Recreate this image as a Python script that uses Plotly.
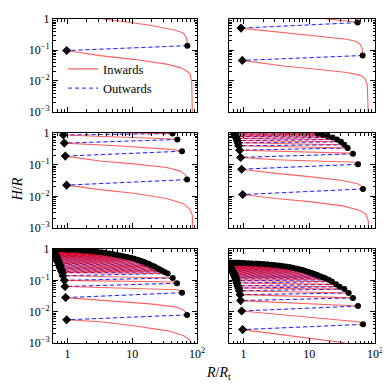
import plotly.graph_objects as go

# ---------------- data ----------------
# Panel 1 (top-left)
P1_START_R, P1_START_H = 3.2, 1.05
P1_C_R = [71.0]
P1_C_H = [0.138]
P1_D_R = [0.975]
P1_D_H = [0.096]
P1_CURVE_R = [[3.2, 18.8, 45, 54.7, 62, 68, 70.5, 71.0],
              [0.975, 3.2, 10.4, 34, 54.7, 69, 78, 82.8, 84.6, 85]]
P1_CURVE_H = [[1.05, 0.63, 0.44, 0.39, 0.34, 0.26, 0.19, 0.138],
              [0.096, 0.066, 0.05, 0.035, 0.027, 0.0214, 0.017, 0.0091, 0.0012, 0.0005]]

# Panel 2 (top-right)
P2_START_R, P2_START_H = 17.0, 1.03
P2_C_R = [54.4, 64.9]
P2_C_H = [0.766, 0.0664]
P2_D_R = [0.913, 0.957]
P2_D_H = [0.508, 0.0462]
P2_CURVE_R = [[17, 30, 45, 52, 54.4],
              [0.913, 4.03, 13, 37, 52.5, 60.4, 64.1, 64.9],
              [0.957, 4.03, 13, 37, 59.2, 70.5, 76.4, 79.1, 79.5]]
P2_CURVE_H = [[1.03, 0.92, 0.84, 0.8, 0.766],
              [0.508, 0.361, 0.284, 0.223, 0.188, 0.148, 0.103, 0.0664],
              [0.0462, 0.0306, 0.024, 0.0189, 0.0155, 0.0122, 0.00716, 0.00107, 0.0005]]

# Panel 3 (middle-left)
P3_START_R, P3_START_H = 0.84, 1.1
P3_C_R = [42.0, 49.8, 58.7, 70.2]
P3_C_H = [0.96, 0.624, 0.266, 0.0338]
P3_D_R = [0.866, 0.897, 0.929, 0.974]
P3_D_H = [0.87, 0.481, 0.187, 0.0226]
P3_CURVE_R = [[0.866, 5.77, 45, 49.8],
              [0.897, 5.77, 43, 55, 58.7],
              [0.929, 3.19, 10.4, 34, 54.7, 65.3, 70.2],
              [0.974, 3.19, 10.4, 34, 61.5, 78, 84.7, 85.7, 86]]
P3_CURVE_H = [[0.87, 0.772, 0.65, 0.624],
              [0.481, 0.398, 0.3, 0.28, 0.266],
              [0.187, 0.131, 0.106, 0.0813, 0.0627, 0.0494, 0.0338],
              [0.0226, 0.0163, 0.0125, 0.00857, 0.00586, 0.00392, 0.0025, 0.001, 0.0005]]

# Panel 4 (middle-right)
P4_START_R, P4_START_H = 0.69, 1.0
P4_C_R = [13.4, 16, 19, 22.6, 26.4, 30.3, 34.1, 38.4, 46.2, 55.1, 65.7]
P4_C_H = [0.955, 0.89, 0.81, 0.72, 0.624, 0.528, 0.427, 0.337, 0.22, 0.103, 0.0171]
P4_D_R = [0.72, 0.74, 0.76, 0.784, 0.803, 0.822, 0.841, 0.871, 0.902, 0.935, 0.968]
P4_D_H = [0.93, 0.855, 0.77, 0.67, 0.58, 0.492, 0.398, 0.286, 0.17, 0.072, 0.0114]
P4_CURVE_R = [[0.871, 5.58, 40, 46.2],
              [0.902, 3.12, 12, 45.7, 55.1],
              [0.935, 3.12, 10, 32.2, 54.6, 62, 65.7],
              [0.968, 3.12, 10, 32.2, 57.8, 72.9, 79, 80, 80.3]]
P4_CURVE_H = [[0.286, 0.26, 0.232, 0.22],
              [0.17, 0.143, 0.131, 0.122, 0.103],
              [0.072, 0.053, 0.0419, 0.0316, 0.0249, 0.0206, 0.0171],
              [0.0114, 0.0085, 0.0068, 0.005, 0.00365, 0.0027, 0.0017, 0.001, 0.0005]]

# Panel 5 (bottom-left)
P5_START_R, P5_START_H = 0.58, 1.0
P5_C_R = [0.62, 0.68, 0.75, 0.84, 0.95, 1.08, 1.25, 1.45, 1.65, 1.9, 2.2, 2.55, 2.9, 3.35,
          3.8, 4.4, 5.0, 5.7, 6.5, 7.4, 8.4, 9.6, 10.8, 12.1, 13.5, 15.0, 16.5, 18.2, 20,
          22, 24, 26.2, 28.5, 31.5, 35.2, 42.2, 49.1, 58.7, 70.2]
P5_C_H = [0.995, 0.99, 0.985, 0.976, 0.965, 0.953, 0.94, 0.923, 0.905, 0.883, 0.86, 0.835,
          0.81, 0.783, 0.755, 0.722, 0.69, 0.658, 0.625, 0.592, 0.56, 0.525, 0.49, 0.457,
          0.425, 0.392, 0.36, 0.33, 0.3, 0.275, 0.25, 0.228, 0.205, 0.186, 0.166, 0.119,
          0.0807, 0.0403, 0.00789]
P5_D_R = [0.585, 0.585, 0.585, 0.587, 0.588, 0.589, 0.59, 0.591, 0.592, 0.595, 0.598,
          0.602, 0.607, 0.614, 0.623, 0.631, 0.64, 0.648, 0.656, 0.665, 0.675, 0.684,
          0.694, 0.707, 0.72, 0.73, 0.74, 0.752, 0.765, 0.776, 0.788, 0.804, 0.82, 0.838,
          0.855, 0.897, 0.918, 0.94, 0.975]
P5_D_H = [0.992, 0.987, 0.98, 0.97, 0.958, 0.946, 0.93, 0.913, 0.893, 0.87, 0.846, 0.82,
          0.795, 0.768, 0.738, 0.705, 0.673, 0.64, 0.607, 0.575, 0.541, 0.506, 0.472,
          0.44, 0.407, 0.375, 0.344, 0.314, 0.287, 0.262, 0.238, 0.216, 0.195, 0.176,
          0.14, 0.1, 0.0635, 0.0281, 0.0055]
P5_CURVE_R = [[0.897, 5, 45.8, 49.1],
              [0.918, 5, 20, 51.5, 58.7],
              [0.94, 5.76, 18.8, 48.6, 61.5, 67.6, 70.2],
              [0.975, 3.19, 10.4, 34, 61.5, 78, 82.8, 84]]
P5_CURVE_H = [[0.1, 0.095, 0.089, 0.0807],
              [0.0635, 0.057, 0.054, 0.05, 0.0403],
              [0.0281, 0.0216, 0.0178, 0.014, 0.0113, 0.0093, 0.00789],
              [0.0055, 0.00476, 0.00357, 0.00249, 0.00174, 0.00121, 0.00095, 0.0005]]

# Panel 6 (bottom-right)
P6_START_R, P6_START_H = 0.57, 0.369
P6_C_R = [0.62, 0.67, 0.72, 0.78, 0.85, 0.95, 1.05, 1.2, 1.35, 1.55, 1.75, 2.0, 2.3, 2.65,
          3.0, 3.45, 3.9, 4.45, 5.0, 5.6, 6.3, 7.1, 7.9, 8.8, 9.8, 10.9, 12.0, 13.2, 14.5,
          16.0, 17.5, 19.7, 22, 25.5, 29, 34.2, 39.8, 46.2, 55.1, 65.7]
P6_C_H = [0.368, 0.367, 0.366, 0.364, 0.362, 0.359, 0.356, 0.352, 0.348, 0.343, 0.338,
          0.332, 0.325, 0.317, 0.308, 0.298, 0.288, 0.277, 0.265, 0.253, 0.24, 0.227,
          0.213, 0.2, 0.186, 0.173, 0.16, 0.147, 0.135, 0.126, 0.117, 0.104, 0.0915,
          0.0745, 0.0625, 0.0525, 0.0394, 0.0275, 0.0151, 0.00394]
P6_D_R = [0.57, 0.57, 0.57, 0.571, 0.572, 0.573, 0.574, 0.575, 0.577, 0.578, 0.58, 0.584,
          0.588, 0.591, 0.595, 0.602, 0.61, 0.617, 0.625, 0.636, 0.647, 0.66, 0.672, 0.684,
          0.695, 0.708, 0.72, 0.73, 0.74, 0.752, 0.765, 0.778, 0.79, 0.815, 0.84, 0.861,
          0.882, 0.902, 0.935, 0.968]
P6_D_H = [0.3675, 0.3665, 0.365, 0.363, 0.36, 0.3575, 0.354, 0.35, 0.345, 0.34, 0.335,
          0.328, 0.32, 0.312, 0.302, 0.293, 0.282, 0.27, 0.258, 0.246, 0.232, 0.219,
          0.206, 0.192, 0.179, 0.166, 0.153, 0.14, 0.13, 0.121, 0.11, 0.097, 0.082,
          0.067, 0.057, 0.0466, 0.0349, 0.0226, 0.0105, 0.00268]
P6_CURVE_R = [[0.902, 5.58, 48.5, 55.1],
              [0.935, 3.12, 10, 32.2, 54.6, 62, 65.7],
              [0.968, 3.12, 10, 32.2, 50, 60, 64]]
P6_CURVE_H = [[0.0226, 0.0191, 0.0158, 0.0151],
              [0.0105, 0.00828, 0.00652, 0.00537, 0.00476, 0.00432, 0.00394],
              [0.00268, 0.00196, 0.00144, 0.00103, 0.0008, 0.0005, 0.0002]]

Y_TICKS = [0.001, 0.01, 0.1, 1]
Y_TICKTEXT = ["10<sup>\u22123</sup>", "10<sup>\u22122</sup>", "10<sup>\u22121</sup>", "1"]
X_TICKS = [1, 10, 100]
X_TICKTEXT = ["1", "10", "10<sup>2</sup>"]

PANELS = [
    (P1_START_R, P1_START_H, P1_C_R, P1_C_H, P1_D_R, P1_D_H, P1_CURVE_R, P1_CURVE_H),
    (P2_START_R, P2_START_H, P2_C_R, P2_C_H, P2_D_R, P2_D_H, P2_CURVE_R, P2_CURVE_H),
    (P3_START_R, P3_START_H, P3_C_R, P3_C_H, P3_D_R, P3_D_H, P3_CURVE_R, P3_CURVE_H),
    (P4_START_R, P4_START_H, P4_C_R, P4_C_H, P4_D_R, P4_D_H, P4_CURVE_R, P4_CURVE_H),
    (P5_START_R, P5_START_H, P5_C_R, P5_C_H, P5_D_R, P5_D_H, P5_CURVE_R, P5_CURVE_H),
    (P6_START_R, P6_START_H, P6_C_R, P6_C_H, P6_D_R, P6_D_H, P6_CURVE_R, P6_CURVE_H),
]

# ---------------- layout geometry ----------------
# The page body has an 8px default margin, so the figure is drawn 8px in and is
# sized so that it still ends at the 390px window edge.
OFF = 8
W, H = 390 - OFF, 390 - OFF
ML, MR, MT, MB = 53 - OFF, 15, 12 - OFF, 47
PW, PH = W - ML - MR, H - MT - MB
COL_PX = [(53, 197), (229, 375)]          # window pixel positions
ROW_PX = [(12, 107), (128.5, 225.5), (247, 343)]


def px_x(X):
    return (X - OFF - ML) / PW


def px_y(Y):
    return 1 - (Y - OFF - MT) / PH


FONT = "Liberation Serif"

fig = go.Figure()

minor_x = [m * 10 ** e for e in range(-1, 2) for m in range(2, 10)]
minor_y = [m * 10 ** e for e in range(-3, 0) for m in range(2, 10)]

for i, (sR, sH, cR, cH, dR, dH, kR, kH) in enumerate(PANELS):
    row, col = divmod(i, 2)
    xa = "x" if i == 0 else f"x{i+1}"
    ya = "y" if i == 0 else f"y{i+1}"

    # dashed "Outwards" lines (circle -> next diamond)
    bx, by = [], []
    for j in range(len(cR)):
        bx += [cR[j], dR[j], None]
        by += [cH[j], dH[j], None]
    fig.add_trace(go.Scatter(x=bx, y=by, mode="lines", xaxis=xa, yaxis=ya,
                             line=dict(color="rgba(90,90,255,0.2)", width=1.0),
                             showlegend=False, hoverinfo="skip"))
    fig.add_trace(go.Scatter(x=bx, y=by, mode="lines", xaxis=xa, yaxis=ya,
                             line=dict(color="rgb(20,20,255)", width=0.95, dash="4px,3px"),
                             name="Outwards", showlegend=(i == 0), legendrank=2))

    # red "Inwards" curves (diamond -> next circle)
    sources = [(sR, sH)] + list(zip(dR, dH))
    targets = list(zip(cR, cH)) + [None]
    n_straight = len(sources) - len(kR)
    rx, ry = [], []
    for j in range(n_straight):
        rx += [sources[j][0], targets[j][0], None]
        ry += [sources[j][1], targets[j][1], None]
    for a, b in zip(kR, kH):
        rx += list(a) + [None]
        ry += list(b) + [None]
    fig.add_trace(go.Scatter(x=rx, y=ry, mode="lines", xaxis=xa, yaxis=ya,
                             line=dict(color="rgba(255,0,0,0.62)", width=1.1),
                             name="Inwards", showlegend=(i == 0), legendrank=1))

    # markers
    fig.add_trace(go.Scatter(x=cR, y=cH, mode="markers", xaxis=xa, yaxis=ya,
                             marker=dict(symbol="circle", size=6, color="black"),
                             showlegend=False))
    fig.add_trace(go.Scatter(x=dR, y=dH, mode="markers", xaxis=xa, yaxis=ya,
                             marker=dict(symbol="diamond", size=7, color="black"),
                             showlegend=False))

    x0, x1 = COL_PX[col]
    y0, y1 = ROW_PX[row]
    xdom = [px_x(x0), px_x(x1)]
    ydom = [px_y(y1), px_y(y0)]
    common = dict(showline=True, linecolor="black", linewidth=1, mirror="ticks",
                  ticks="inside", ticklen=5, tickwidth=1, tickcolor="black",
                  showgrid=False, zeroline=False, type="log",
                  ticklabeloverflow="allow",
                  tickfont=dict(family=FONT, size=12, color="black"))
    xkey = "xaxis" if i == 0 else f"xaxis{i+1}"
    ykey = "yaxis" if i == 0 else f"yaxis{i+1}"
    fig.layout[xkey] = dict(common, domain=xdom, range=[-0.2218, 2.0], anchor=ya,
                            tickmode="array", tickvals=X_TICKS, ticktext=X_TICKTEXT,
                            showticklabels=(row == 2),
                            minor=dict(ticks="inside", ticklen=2.5, tickcolor="black",
                                       tickmode="array", tickvals=minor_x, showgrid=False))
    fig.layout[ykey] = dict(common, domain=ydom, range=[-3, 0], anchor=xa,
                            tickmode="array", tickvals=Y_TICKS, ticktext=Y_TICKTEXT,
                            showticklabels=(col == 0),
                            minor=dict(ticks="inside", ticklen=2.5, tickcolor="black",
                                       tickmode="array", tickvals=minor_y, showgrid=False))

fig.add_annotation(text="<i>H</i>/<i>R</i>", xref="paper", yref="paper",
                   x=px_x(17), y=px_y(186), textangle=-90,
                   xanchor="center", yanchor="middle", borderpad=0,
                   showarrow=False, font=dict(family=FONT, size=14, color="black"))
fig.add_annotation(text="<i>R</i>/<i>R</i><sub>t</sub>", xref="paper", yref="paper",
                   x=px_x(218), y=px_y(374),
                   xanchor="center", yanchor="middle",
                   showarrow=False, font=dict(family=FONT, size=14, color="black"))

fig.update_layout(
    width=W, height=H, margin=dict(l=ML, r=MR, t=MT, b=MB),
    paper_bgcolor="white", plot_bgcolor="white",
    legend=dict(x=px_x(63), y=px_y(48), xanchor="left", yanchor="top",
                bgcolor="rgba(0,0,0,0)", font=dict(family=FONT, size=12.5, color="black"),
                itemwidth=30, tracegroupgap=0, traceorder="normal"),
)

fig.write_html("out.html")
